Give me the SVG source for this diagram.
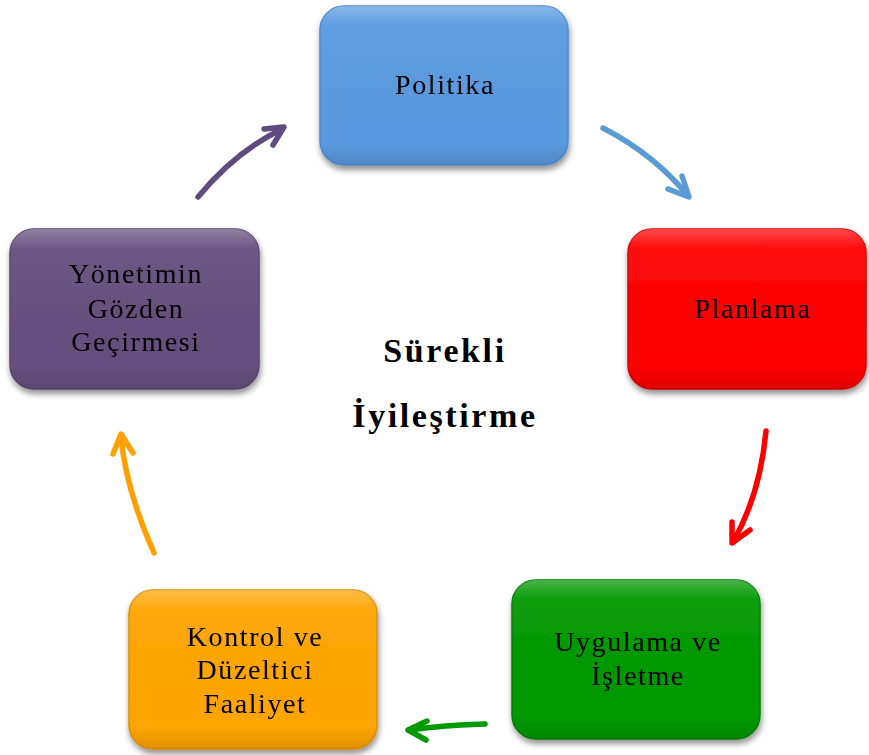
<svg xmlns="http://www.w3.org/2000/svg" width="869" height="755" viewBox="0 0 869 755">
<style>
.box{stroke-width:1.5}
.lbl{font-family:"Liberation Serif","DejaVu Serif",serif;font-size:28px;letter-spacing:1.6px;fill:#000;text-anchor:middle}
.ttl{font-family:"Liberation Serif","DejaVu Serif",serif;font-size:34px;letter-spacing:2.6px;font-weight:bold;fill:#000;text-anchor:middle}
.arr{fill:none;stroke-width:5.5;stroke-linecap:round;stroke-linejoin:round}
</style>
<defs>
<filter id="sh" x="-10%" y="-10%" width="125%" height="130%">
<feGaussianBlur in="SourceAlpha" stdDeviation="3"/>
<feOffset dx="1" dy="4" result="b"/>
<feComponentTransfer><feFuncA type="linear" slope="0.45"/></feComponentTransfer>
<feMerge><feMergeNode/><feMergeNode in="SourceGraphic"/></feMerge>
</filter>
<linearGradient id="hl" x1="0" y1="0" x2="0" y2="1">
<stop offset="0" stop-color="#fff" stop-opacity="0.28"/>
<stop offset="0.12" stop-color="#fff" stop-opacity="0.05"/>
<stop offset="0.85" stop-color="#000" stop-opacity="0"/>
<stop offset="1" stop-color="#000" stop-opacity="0.12"/>
</linearGradient>
</defs>
<rect width="869" height="755" fill="#fff"/>

<g id="politika" filter="url(#sh)">
<rect class="box" x="320" y="6" width="248" height="159" rx="24" fill="#5A9AE0" stroke="#4F89C9"/>
<rect x="320" y="6" width="248" height="159" rx="24" fill="url(#hl)"/>
<text class="lbl" x="445" y="94">Politika</text>
</g>

<g id="planlama" filter="url(#sh)">
<rect class="box" x="628" y="229" width="238" height="160" rx="24" fill="#FF0000" stroke="#D80000"/>
<rect x="628" y="229" width="238" height="160" rx="24" fill="url(#hl)"/>
<text class="lbl" x="753" y="318">Planlama</text>
</g>

<g id="uygulama" filter="url(#sh)">
<rect class="box" x="512" y="580" width="248" height="159" rx="24" fill="#009900" stroke="#007F00"/>
<rect x="512" y="580" width="248" height="159" rx="24" fill="url(#hl)"/>
<text class="lbl" x="638" y="651">Uygulama ve</text>
<text class="lbl" x="638" y="685">İşletme</text>
</g>

<g id="kontrol" filter="url(#sh)">
<rect class="box" x="129" y="590" width="248" height="159" rx="24" fill="#FFA500" stroke="#E09000"/>
<rect x="129" y="590" width="248" height="159" rx="24" fill="url(#hl)"/>
<text class="lbl" x="255" y="646">Kontrol ve</text>
<text class="lbl" x="255" y="679">Düzeltici</text>
<text class="lbl" x="255" y="713">Faaliyet</text>
</g>

<g id="yonetim" filter="url(#sh)">
<rect class="box" x="10" y="229" width="249" height="160" rx="24" fill="#66507F" stroke="#584570"/>
<rect x="10" y="229" width="249" height="160" rx="24" fill="url(#hl)"/>
<text class="lbl" x="136" y="283">Yönetimin</text>
<text class="lbl" x="136" y="318">Gözden</text>
<text class="lbl" x="136" y="351">Geçirmesi</text>
</g>

<g id="center">
<text class="ttl" x="445" y="362">Sürekli</text>
<text class="ttl" x="445" y="427">İyileştirme</text>
</g>

<g id="connectors">
<g stroke="#5B9BD5" class="arr">
<path d="M603,128 Q655,155 688,196"/>
<path d="M668,189 L689,197 L682,176"/>
</g>
<g stroke="#FF0000" class="arr">
<path d="M766,431 Q760,495 733,542"/>
<path d="M732,522 L732,543 L750,530"/>
</g>
<g stroke="#009900" class="arr">
<path d="M485,724 Q445,725 409,730"/>
<path d="M427,721 L408,730 L426,740"/>
</g>
<g stroke="#FFA000" class="arr">
<path d="M154,553 Q126,490 121,437"/>
<path d="M113,454 L121,434 L133,453"/>
</g>
<g stroke="#5F4B7F" class="arr">
<path d="M198,197 Q235,152 282,129"/>
<path d="M264,129 L284,127 L273,145"/>
</g>
</g>
</svg>
